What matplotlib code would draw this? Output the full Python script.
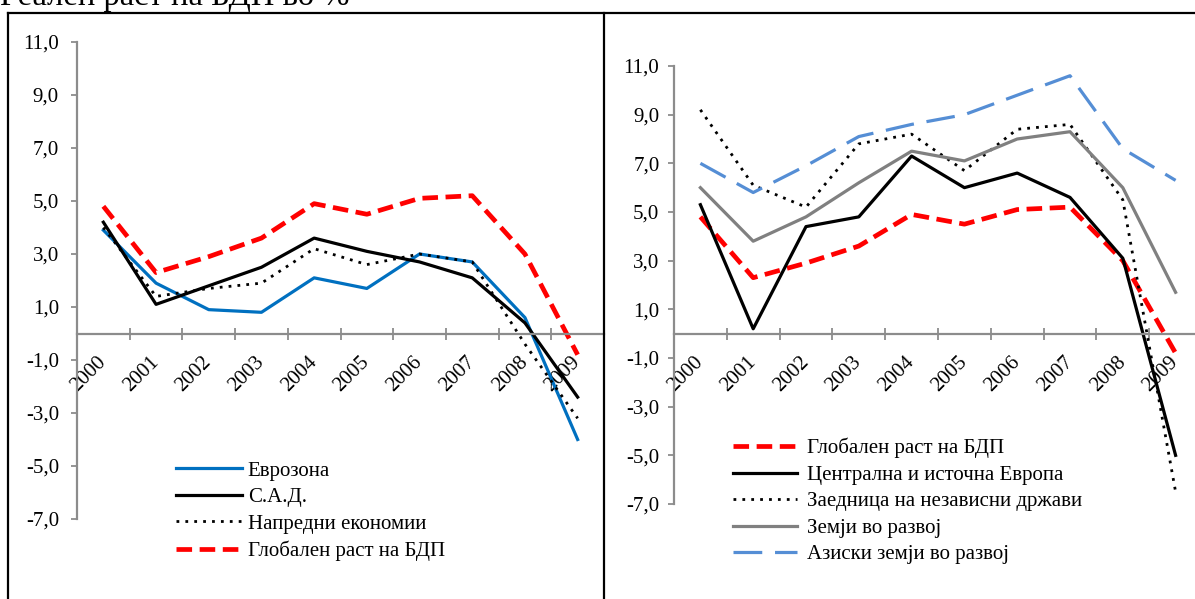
import numpy as np
import matplotlib
matplotlib.use("Agg")
import matplotlib.pyplot as plt
from matplotlib.lines import Line2D

plt.rcParams['font.family'] = ['Liberation Serif', 'DejaVu Serif']

# podatoci
godini = ['2000', '2001', '2002', '2003', '2004', '2005', '2006', '2007', '2008', '2009']
evrozona = [3.9, 1.9, 0.9, 0.8, 2.1, 1.7, 3.0, 2.7, 0.6, -4.0]
sad = [4.2, 1.1, 1.8, 2.5, 3.6, 3.1, 2.7, 2.1, 0.4, -2.4]
napredni = [4.0, 1.4, 1.7, 1.9, 3.2, 2.6, 3.0, 2.7, -0.4, -3.2]
globalen = [4.8, 2.3, 2.9, 3.6, 4.9, 4.5, 5.1, 5.2, 3.0, -0.8]
cie = [5.3, 0.2, 4.4, 4.8, 7.3, 6.0, 6.6, 5.6, 3.1, -5.0]
zond = [9.2, 6.1, 5.2, 7.8, 8.2, 6.7, 8.4, 8.6, 5.5, -6.5]
vo_razvoj = [6.0, 3.8, 4.8, 6.2, 7.5, 7.1, 8.0, 8.3, 6.0, 1.7]
azija = [7.0, 5.8, 6.9, 8.1, 8.6, 9.0, 9.8, 10.6, 7.6, 6.3]

W, H = 1195, 599
fig = plt.figure(figsize=(W / 100, H / 100), dpi=100)

siva = '#8c8c8c'
FS = 15

def oski(ax, ypad):
    x = np.arange(len(godini))
    # prvo pozicija na oskata, inaku se brishat svojstvata na oznakite
    ax.spines['bottom'].set_position(('data', 0))
    for s in ['top', 'right']:
        ax.spines[s].set_visible(False)
    for s in ['bottom', 'left']:
        ax.spines[s].set_color(siva)
        ax.spines[s].set_linewidth(1.6)
    ax.set_xlim(-0.5, len(godini) - 0.5)
    ax.set_ylim(-7, 11)
    ax.set_yticks(np.arange(-7, 12, 2))
    ax.set_yticklabels([('%.1f' % v).replace('.', ',') for v in np.arange(-7, 12, 2)], fontsize=FS)
    ax.set_xticks(x)
    ax.set_xticklabels(godini, fontsize=FS, rotation=45, ha='right', va='center', rotation_mode='anchor')
    ax.set_xticks(np.arange(0.5, len(godini) - 1, 1), minor=True)
    ax.tick_params(axis='x', which='major', length=0, pad=18.5)
    ax.tick_params(axis='x', which='minor', length=8, direction='inout', color=siva, width=1.3)
    ax.tick_params(axis='y', length=4, direction='out', color=siva, width=1.3, pad=ypad)
    ax.patch.set_visible(False)
    return x

crvena = dict(color='#ff0000', lw=3.4, ls=(0, (3.3, 1.6)))
crna = dict(color='black', lw=2.3, ls='-')
tocki = dict(color='black', lw=2.0, ls=(0, (1, 2.2)))

# leva slika
ax1 = fig.add_axes([77 / W, 1 - 519 / H, 527 / W, 477 / H])
x = oski(ax1, 9)
ax1.plot(x, evrozona, color='#0070c0', lw=2.3, label='Еврозона')
ax1.plot(x, sad, label='С.А.Д.', **crna)
ax1.plot(x, napredni, label='Напредни економии', **tocki)
ax1.plot(x, globalen, label='Глобален раст на БДП', **crvena)
ax1.legend(loc='upper left', bbox_to_anchor=(176 / W, 1 - 461 / H), bbox_transform=fig.transFigure,
           frameon=False, fontsize=FS, borderpad=0, borderaxespad=0, handlelength=3.15,
           handletextpad=0.3, labelspacing=0.33)

# desna slika
ax2 = fig.add_axes([674 / W, 1 - 504 / H, 528 / W, 438 / H])
x = oski(ax2, 6.5)
ax2.plot(x, globalen, label='Глобален раст на БДП', **crvena)
ax2.plot(x, cie, label='Централна и источна Европа', **crna)
ax2.plot(x, zond, label='Заедница на независни држави', **tocki)
ax2.plot(x, vo_razvoj, color='#808080', lw=2.3, label='Земји во развој')
ax2.plot(x, azija, color='#558ed5', lw=2.3, ls=(0, (9, 4)), label='Азиски земји во развој')
ax2.legend(loc='upper left', bbox_to_anchor=(733 / W, 1 - 438 / H), bbox_transform=fig.transFigure,
           frameon=False, fontsize=FS, borderpad=0, borderaxespad=0, handlelength=3.05,
           handletextpad=0.48, labelspacing=0.33)

# ramki
for xs, ys in [([8, W], [13, 13]), ([8, 8], [13, H]), ([604, 604], [13, H])]:
    fig.add_artist(Line2D([v / W for v in xs], [1 - v / H for v in ys], color='black', lw=1.6,
                          transform=fig.transFigure))

fig.text(0.0, 1 - 5 / H, 'Реален раст на БДП во %', fontsize=23.5, va='baseline', ha='left')

fig.savefig('out.png', dpi=100)
